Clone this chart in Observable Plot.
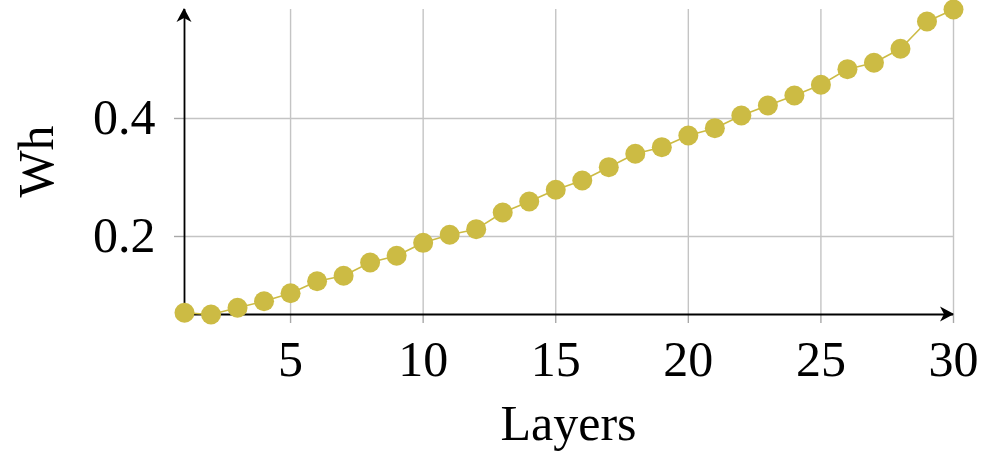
<!DOCTYPE html>
<html>
<head>
<meta charset="utf-8">
<script src="https://cdn.jsdelivr.net/npm/d3@7"></script>
<script src="https://cdn.jsdelivr.net/npm/@observablehq/plot@0.6"></script>
<style>
  html, body { margin: 0; padding: 0; background: white; }
</style>
</head>
<body>
<div id="chart"></div>
<script>
const layers = [1,2,3,4,5,6,7,8,9,10,11,12,13,14,15,16,17,18,19,20,21,22,23,24,25,26,27,28,29,30];
const wh = [0.0707,0.0678,0.0792,0.0903,0.1039,0.1242,0.1334,0.1559,0.1673,0.1893,
            0.2029,0.2124,0.2407,0.2593,0.2792,0.2949,0.3175,0.3402,0.3514,0.3712,
            0.3836,0.4051,0.4220,0.4390,0.4571,0.4836,0.4944,0.5181,0.5644,0.5847];
const xTicks = [5,10,15,20,25,30];
const yTicks = [0.2,0.4];
const xLabel = "Layers";
const yLabel = "Wh";
const color = "#ccbb44";

const data = layers.map((l, i) => ({layer: l, wh: wh[i]}));
const [xmin, xmax] = d3.extent(layers);
const [ymin, ymax] = d3.extent(wh);
const font = "'Liberation Serif', 'DejaVu Serif', serif";

const chart = Plot.plot({
  width: 997, height: 476,
  marginLeft: 184, marginRight: 44, marginTop: 9, marginBottom: 162,
  style: {fontFamily: font, fontSize: "50px", background: "white", color: "black", overflow: "visible"},
  x: {domain: [xmin, xmax]},
  y: {domain: [ymin, ymax]},
  marks: [
    Plot.gridX(xTicks, {stroke: "#c4c4c4", strokeOpacity: 1, strokeWidth: 1.4}),
    Plot.gridY(yTicks, {stroke: "#c4c4c4", strokeOpacity: 1, strokeWidth: 1.4}),
    Plot.axisX(xTicks, {tickSize: 9, tickPadding: 17, stroke: "#a8a8a8", strokeWidth: 1.4, label: null, tickFormat: d => String(d), fontSize: 50}),
    Plot.axisY(yTicks, {tickSize: 10, tickPadding: 19, stroke: "#a8a8a8", strokeWidth: 1.4, label: null, tickFormat: d => d.toFixed(1), fontSize: 50}),
    Plot.ruleY([ymin], {x1: xmin, x2: xmax, stroke: "black", strokeWidth: 1.8}),
    Plot.ruleX([xmin], {y1: ymin, y2: ymax, stroke: "black", strokeWidth: 1.8}),
    Plot.line(data, {x: "layer", y: "wh", stroke: color, strokeWidth: 1.6}),
    Plot.dot(data, {x: "layer", y: "wh", r: 10, fill: color, stroke: "none"})
  ]
});

document.getElementById("chart").appendChild(chart);

const sx = chart.scale("x"), sy = chart.scale("y");
const svg = d3.select(chart);
const x0 = sx.apply(xmin), x1 = sx.apply(xmax);
const y0 = sy.apply(ymin), y1 = sy.apply(ymax);
const head = "M1,0 L-13,-7.5 L-9,0 L-13,7.5 Z";
// x-axis arrow
svg.append("path").attr("d", head).attr("fill", "black")
  .attr("transform", `translate(${x1},${y0})`);
// y-axis arrow
svg.append("path").attr("d", head).attr("fill", "black")
  .attr("transform", `translate(${x0},${y1}) rotate(-90)`);

// axis labels
svg.append("text").text(xLabel)
  .attr("x", (x0 + x1) / 2).attr("y", 440)
  .attr("text-anchor", "middle")
  .style("font-family", font).style("font-size", "50px").attr("fill", "black");
svg.append("text").text(yLabel)
  .attr("transform", `translate(53,${(y0 + y1) / 2}) rotate(-90)`)
  .attr("text-anchor", "middle")
  .style("font-family", font).style("font-size", "50px").attr("fill", "black");
</script>
</body>
</html>
